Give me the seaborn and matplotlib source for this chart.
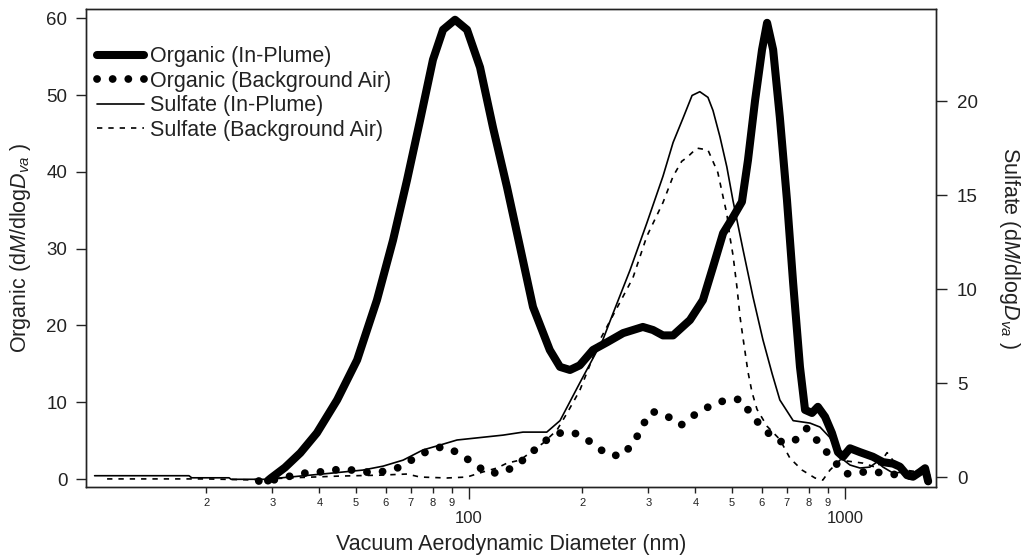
import matplotlib
matplotlib.use("Agg")
import matplotlib.pyplot as plt
import seaborn as sns
from matplotlib.ticker import FixedLocator, FixedFormatter

# ---------------- data ----------------
org_plume_d = [29.2, 29.7, 32.4, 35.6, 39.4, 44.6, 50.4, 56.9, 62.8, 68.4, 74.1, 80.2, 85.3, 91.8,
               98.8, 107, 115.8, 126.2, 136.7, 148, 164, 174.6, 185.6, 197, 213.6, 232.8, 257, 290,
               308.6, 328, 349, 387, 419, 445.6, 474, 503.7, 532, 552, 576.6, 601.7, 620.6, 644,
               671, 701, 728, 759, 783, 817, 847, 885, 923, 958, 988, 1031, 1096, 1186, 1262,
               1343, 1400, 1462, 1517, 1582, 1633, 1664]
org_plume_v = [-0.2, 0.1, 1.5, 3.4, 6.0, 10.3, 15.5, 23.3, 31.1, 38.9, 46.7, 54.6, 58.5, 59.8,
               58.5, 53.6, 45.8, 38.0, 30.2, 22.4, 16.8, 14.6, 14.2, 14.8, 16.8, 17.8, 19.0, 19.8,
               19.4, 18.7, 18.7, 20.7, 23.3, 27.6, 32.0, 34.1, 36.1, 41.5, 49.3, 55.9, 59.4, 55.9,
               47.1, 36.3, 25.5, 14.6, 9.0, 8.6, 9.4, 8.1, 6.0, 3.5, 2.9, 4.0, 3.5, 2.9, 2.2,
               2.0, 1.6, 0.5, 0.3, 0.9, 1.4, -0.3]

org_bg_d = [27.6, 29.4, 32.6, 36.9, 39.9, 43.7, 48.3, 52.9, 58.0, 64.3, 70.5, 77.3, 84.7, 92.9,
            101.8, 111.7, 122.4, 134.2, 147, 161, 176.7, 193.8, 212.5, 232.8, 255, 276, 288.5,
            306.8, 334, 366, 396.5, 437, 476.6, 526, 566, 605, 663, 728, 792, 1000, 1165, 1400, 1633]
org_bg_v = [-0.26, -0.26, 0.26, 0.8, 0.9, 1.2, 1.2, 0.9, 0.9, 1.4, 2.5, 3.6, 4.2, 3.5,
            2.2, 0.8, 0.8, 1.8, 3.5, 5.1, 6.1, 5.9, 4.7, 3.2, 3.0, 4.9, 6.9,
            8.8, 8.3, 7.0, 8.3, 9.5, 10.2, 10.4, 8.3, 6.6, 4.9, 4.8, 6.6, 0.65, 1.0, 0.5, 0.2]

sul_plume_d = [10.1, 18.0, 18.3, 23.0, 23.3, 28.7, 33.4, 42.7, 52.2, 59.1, 66.8, 75.4, 83.7, 92.9,
               107, 123.2, 139.2, 161, 174.6, 197, 227, 241.5, 268, 297, 328, 349, 371, 392, 411,
               432, 445.6, 465, 485, 503.7, 535.5, 569, 605, 640, 671, 728, 807, 858, 912, 970,
               1031, 1096, 1165, 1216, 1262, 1343, 1489, 1682]
sul_plume_v = [0.07, 0.07, -0.04, -0.04, -0.12, -0.12, 0.0, 0.2, 0.37, 0.58, 0.9, 1.44, 1.7, 1.97,
               2.1, 2.23, 2.39, 2.39, 3.0, 5.0, 7.3, 8.7, 11.0, 13.5, 16.0, 17.8, 19.1, 20.3, 20.5,
               20.2, 19.5, 18.1, 16.5, 14.7, 12.1, 9.6, 7.3, 5.5, 4.1, 3.0, 2.87, 2.66, 2.1, 1.06,
               0.64, 0.48, 0.53, 0.8, 0.53, 0.21, 0.3, 0.1]

sul_bg_d = [10.9, 15.1, 20.0, 26.0, 33.0, 45.0, 58.0, 68.4, 74.1, 87.4, 98.8, 108.9, 118.7, 126.2,
            136.7, 157.3, 171.4, 182.3, 197, 223, 256.8, 272.9, 297, 328, 349, 368, 380, 403.6,
            432, 459, 474, 485, 494, 503.7, 516, 526, 535.5, 552, 566, 583.5, 620.6, 671, 714,
            769, 832, 873, 912, 970, 1117, 1216, 1294, 1400, 1682]
sul_bg_v = [-0.1, -0.1, -0.1, -0.15, -0.05, 0.05, 0.1, 0.16, 0.0, -0.05, 0.0, 0.27, 0.48, 0.74,
            0.9, 1.8, 2.5, 3.4, 4.6, 7.3, 9.6, 10.6, 12.8, 14.6, 16.0, 16.8, 17.0, 17.5,
            17.4, 16.2, 14.9, 14.0, 12.8, 11.8, 10.1, 8.5, 7.4, 5.6, 4.5, 3.6, 2.7, 2.0, 1.0,
            0.37, -0.05, -0.16, 0.37, 0.9, 0.74, 0.5, 1.3, 0.4, 0.2]

labels = ["Organic (In-Plume)", "Organic (Background Air)",
          "Sulfate (In-Plume)", "Sulfate (Background Air)"]
x_major = [100, 1000]
x_major_labels = ["100", "1000"]
x_minor = [20, 30, 40, 50, 60, 70, 80, 90, 200, 300, 400, 500, 600, 700, 800, 900]
x_minor_labels = ["2", "3", "4", "5", "6", "7", "8", "9", "2", "3", "4", "5", "6", "7", "8", "9"]
left_ticks = [0, 10, 20, 30, 40, 50, 60]
right_ticks = [0, 5, 10, 15, 20]

# ---------------- style ----------------
sns.set_theme(style="ticks")
TXT = "#222222"
plt.rcParams.update({
    "font.family": ["Liberation Sans", "DejaVu Sans"],
    "mathtext.fontset": "custom",
    "mathtext.rm": "Liberation Sans",
    "mathtext.it": "Liberation Sans:italic",
    "mathtext.bf": "Liberation Sans:bold",
    "text.color": TXT,
    "axes.labelcolor": TXT,
    "xtick.color": TXT,
    "ytick.color": TXT,
    "axes.edgecolor": TXT,
})

fig = plt.figure(figsize=(10.21, 5.59), dpi=100)
ax = fig.add_axes([86 / 1021, 1 - 487 / 559, 850 / 1021, 478 / 559])
ax.set_xscale("log")
ax2 = ax.twinx()

sns.lineplot(x=org_plume_d, y=org_plume_v, ax=ax, color="black", linewidth=5.8,
             solid_capstyle="round", solid_joinstyle="round", legend=False, zorder=5)
h1 = ax.lines[-1]
sns.lineplot(x=org_bg_d, y=org_bg_v, ax=ax, color="black", linewidth=5.6,
             linestyle=(0, (0.01, 2.0)), dash_capstyle="round", legend=False, zorder=4)
h2 = ax.lines[-1]
sns.lineplot(x=sul_plume_d, y=sul_plume_v, ax=ax2, color="black", linewidth=1.2, legend=False)
h3 = ax2.lines[-1]
sns.lineplot(x=sul_bg_d, y=sul_bg_v, ax=ax2, color="black", linewidth=1.2,
             linestyle=(0, (3.2, 3.6)), legend=False)
h4 = ax2.lines[-1]

# axes ranges
ax.set_xlim(9.58, 1746)
ax.set_ylim(-1.04, 61.2)
ax2.set_ylim(-0.53, 24.9)

# x ticks
ax.xaxis.set_major_locator(FixedLocator(x_major))
ax.xaxis.set_major_formatter(FixedFormatter(x_major_labels))
ax.xaxis.set_minor_locator(FixedLocator(x_minor))
ax.xaxis.set_minor_formatter(FixedFormatter(x_minor_labels))
ax.tick_params(axis="x", which="major", direction="out", length=8.6, width=1.0,
               pad=8.5, labelsize=12)
ax.tick_params(axis="x", which="minor", direction="out", length=4.3, width=1.0,
               pad=3.5, labelsize=8)

ax.set_yticks(left_ticks)
ax.tick_params(axis="y", which="major", direction="out", length=7, width=1.0,
               pad=6.5, labelsize=13.5, left=True, right=False)
ax2.set_yticks(right_ticks)
ax2.tick_params(axis="y", which="major", direction="out", length=8, width=1.0,
                pad=7, labelsize=13.5, right=True, left=False)

for a in (ax, ax2):
    for s in a.spines.values():
        s.set_visible(True)
        s.set_linewidth(1.0)
        s.set_color(TXT)

# labels
ax.set_xlabel("Vacuum Aerodynamic Diameter (nm)", fontsize=15.5, va="center")
ax.xaxis.set_label_coords(0.5, -0.121)
ax.set_ylabel(r"Organic (d$\mathit{M}$/dlog$\mathit{D}_{\mathit{va}}$ )", fontsize=15.5, va="center")
ax.yaxis.set_label_coords(-0.0776, 0.5)
ax2.set_ylabel(r"Sulfate (d$\mathit{M}$/dlog$\mathit{D}_{\mathit{va}}$ )", fontsize=15.5,
               rotation=270, va="center")
ax2.yaxis.set_label_coords(1.087, 0.5)

# legend
ax2.legend([h1, h2, h3, h4], labels, loc="upper left", bbox_to_anchor=(0.013, 0.922),
           frameon=False, fontsize=15.5, handlelength=2.2, handletextpad=0.25,
           labelspacing=0.16, borderpad=0, borderaxespad=0)

fig.savefig("out.png", dpi=100)
